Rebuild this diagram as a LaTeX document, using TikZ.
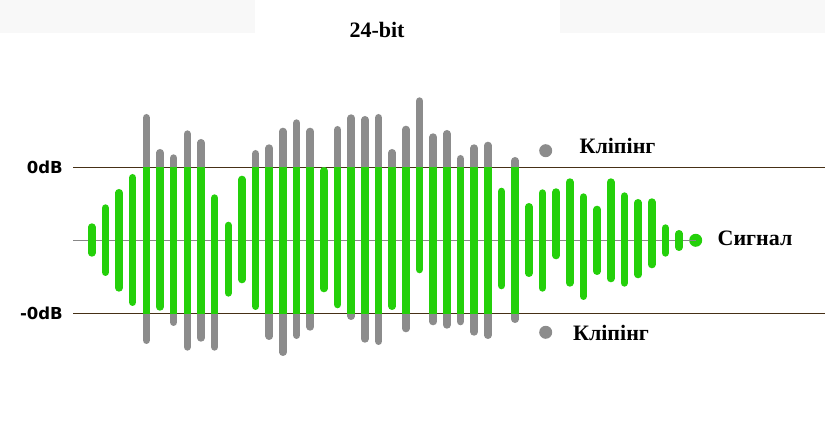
\documentclass[tikz,border=0pt]{standalone}
\usepackage{fontspec}
\setmainfont{Liberation Serif}
\newfontfamily\dbfont{DejaVu Sans}
\definecolor{sig}{RGB}{36,208,10}
\definecolor{clipg}{RGB}{140,140,140}
\definecolor{refline}{RGB}{70,48,22}
\definecolor{midg}{RGB}{135,135,135}
\definecolor{panel}{RGB}{248,248,248}
\def\barlist{1/223.3/256.7, 2/204.3/276, 3/189/291.7, 4/174/306, 5/114/344,
6/149/310.7, 7/154.3/326, 8/130.3/350.7, 9/139/341.7, 10/194.3/350.7,
11/221.7/296.7, 12/175.7/283.3, 13/150/310, 14/144.3/340, 15/127.7/356,
16/119.3/339, 17/127.7/330.7, 18/167/292.3, 19/126/308.3, 20/114.3/320,
21/116/342.7, 22/114/345, 23/149/310, 24/125.7/332.3, 25/97.3/273.3,
26/133.3/325.3, 27/130/328.7, 28/155/325.3, 29/144.3/335.7, 30/141.7/339,
31/187.7/289.3, 32/157/323, 33/203/277, 34/189.3/291.7, 35/188.3/259.3,
36/178.3/286.7, 37/193.3/300, 38/205.7/275, 39/178.3/282.3, 40/192.3/286.7,
41/199/278.3, 42/198.3/268.3, 43/224.3/256.7, 44/230/251}
\begin{document}
\begin{tikzpicture}[x=1pt,y=-1pt,
  barstroke/.style={line width=7.6pt, line cap=round},
  lbl/.style={font=\bfseries\fontsize{22}{26}\selectfont, inner sep=0pt},
  dblbl/.style={font=\dbfont\bfseries\fontsize{16.5}{19}\selectfont, inner sep=0pt, anchor=east},
  dot/.style={circle, minimum size=13pt, inner sep=0pt}]
\useasboundingbox (0,0) rectangle (825,438);
\fill[panel] (0,0) rectangle (255,33);
\fill[panel] (560,0) rectangle (825,33);
% reference lines
\coordinate (topL) at (73,167.3);
\coordinate (topR) at (825,167.3);
\coordinate (botL) at (73,313.2);
\coordinate (botR) at (825,313.2);
\coordinate (midL) at (73,240.3);
\node[dot, fill=sig] (sigdot) at (695.7,240.3) {};
\draw[midg, line width=0.9pt] (midL) -- (sigdot.center);
\draw[refline, line width=1.2pt] (topL) -- (topR);
\draw[refline, line width=1.2pt] (botL) -- (botR);
% gray clipped parts above
\begin{scope}
  \clip (0,0) rectangle (825,167.3);
  \foreach \i/\t/\b in \barlist {
    \pgfmathsetmacro\x{91.7+13.66*(\i-1)}
    \draw[barstroke, clipg] (\x,\t+3.8) -- (\x,\b-3.8);
  }
\end{scope}
% gray clipped parts below
\begin{scope}
  \clip (0,313.2) rectangle (825,438);
  \foreach \i/\t/\b in \barlist {
    \pgfmathsetmacro\x{91.7+13.66*(\i-1)}
    \draw[barstroke, clipg] (\x,\t+3.8) -- (\x,\b-3.8);
  }
\end{scope}
% green signal parts
\begin{scope}
  \clip (0,167.3) rectangle (825,313.2);
  \foreach \i/\t/\b in \barlist {
    \pgfmathsetmacro\x{91.7+13.66*(\i-1)}
    \draw[barstroke, sig] (\x,\t+3.8) -- (\x,\b-3.8);
  }
\end{scope}
% legend dots
\node[dot, fill=clipg] (clipdotA) at (545.7,150.7) {};
\node[dot, fill=clipg] (clipdotB) at (545.7,332.3) {};
% labels
\node[lbl] (title) at (377,30) {24-bit};
\node[lbl] (clipA) at (617.5,146) {Кліпінг};
\node[lbl] (clipB) at (611,333) {Кліпінг};
\node[lbl] (siglbl) at (755,238.5) {Сигнал};
\node[dblbl] (zerodb) at (63,167) {0dB};
\node[dblbl] (negdb) at (63,313) {-0dB};
\end{tikzpicture}
\end{document}
